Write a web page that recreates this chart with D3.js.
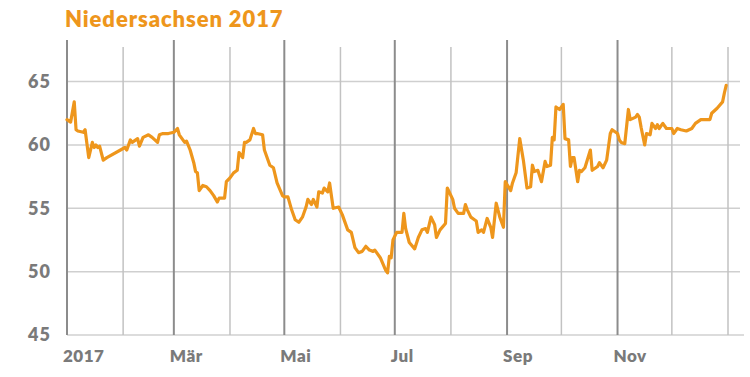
<!DOCTYPE html>
<html>
<head>
<meta charset="utf-8">
<script src="https://cdn.jsdelivr.net/npm/d3@7"></script>
<style>
  html, body { margin: 0; padding: 0; background: #fff; }
  svg { display: block; font-family: Lato, "Open Sans", sans-serif; }
</style>
</head>
<body>
<svg id="chart" width="750" height="377"></svg>
<script>
const WIDTH = 750;
const HEIGHT = 377;
const PADDING_LEFT = 67;
const PLOT_RIGHT = 728;
const GRID_RIGHT = 740;
const PADDING_TOP = 40;
const PLOT_BOTTOM = 335;

const COLOR_LINE = '#EE961C';
const COLOR_TEXT = '#7a7a7a';

const TITLE = 'Niedersachsen 2017';

// Tage seit 1. Januar 2017
const DAYS = [0, 2, 4, 5, 6, 9, 10, 12, 14, 15, 16, 17, 18, 20, 22, 32, 33, 35, 36, 38,
    39, 40, 42, 45, 47, 50, 51, 53, 56, 59, 61, 62, 65, 66, 68, 70, 71, 72, 73, 75,
    77, 79, 81, 83, 84, 86, 87, 88, 90, 92, 94, 95, 97, 98, 99, 101, 103, 104, 105, 108,
    109, 112, 114, 116, 119, 120, 122, 124, 126, 128, 130, 132, 133, 135, 136, 138, 139, 141, 142, 144,
    145, 147, 150, 152, 155, 157, 159, 161, 163, 165, 167, 169, 170, 173, 176, 177, 178, 179, 180, 182,
    184, 185, 186, 187, 189, 192, 194, 196, 198, 199, 201, 203, 204, 206, 209, 210, 213, 214, 216, 219,
    220, 221, 223, 225, 226, 227, 229, 230, 232, 234, 235, 237, 239, 241, 242, 245, 246, 248, 250, 252,
    254, 256, 257, 258, 260, 262, 264, 265, 267, 268, 269, 270, 272, 274, 275, 277, 278, 279, 280, 282,
    283, 284, 286, 289, 290, 293, 294, 296, 298, 300, 301, 304, 305, 306, 308, 310, 311, 314, 315, 316,
    317, 319, 320, 322, 323, 325, 326, 327, 329, 331, 334, 335, 337, 339, 342, 345, 347, 350, 352, 355,
    356, 359, 362, 363, 364];

const VALUES = [62.0, 61.8, 63.4, 61.2, 61.1, 61.0, 61.2, 59.0, 60.2, 59.8, 60.0, 59.8, 59.9, 58.8, 59.0, 59.8, 59.6, 60.4, 60.2, 60.4,
    60.5, 59.9, 60.6, 60.8, 60.6, 60.2, 60.8, 60.9, 60.9, 61.0, 61.3, 60.8, 60.2, 60.3, 59.6, 58.6, 57.9, 57.8, 56.4, 56.8,
    56.7, 56.4, 56.0, 55.5, 55.8, 55.8, 55.8, 57.1, 57.4, 57.8, 58.0, 59.4, 59.0, 60.2, 60.2, 60.4, 61.3, 60.9, 60.9, 60.8,
    59.6, 58.4, 58.2, 57.0, 56.0, 55.9, 55.9, 54.9, 54.1, 53.9, 54.3, 55.1, 55.7, 55.3, 55.7, 55.1, 56.3, 56.2, 56.6, 56.3,
    57.0, 55.0, 55.1, 54.5, 53.3, 53.1, 51.9, 51.5, 51.6, 52.0, 51.7, 51.6, 51.7, 51.1, 50.1, 49.9, 51.2, 51.1, 52.5, 53.1,
    53.1, 53.1, 54.6, 53.4, 52.3, 51.8, 52.7, 53.3, 53.4, 53.1, 54.3, 53.7, 52.7, 53.3, 53.8, 56.6, 55.7, 55.0, 54.6, 54.6,
    55.3, 54.9, 54.3, 54.1, 54.0, 53.1, 53.3, 53.1, 54.2, 53.5, 52.7, 55.4, 54.3, 53.5, 57.1, 56.4, 57.0, 57.8, 60.5, 58.8,
    56.6, 56.7, 58.4, 57.9, 58.0, 57.1, 58.7, 58.3, 58.4, 60.6, 60.4, 63.0, 62.8, 63.2, 60.5, 60.4, 58.3, 59.0, 59.0, 57.1,
    58.0, 57.9, 58.2, 59.6, 58.0, 58.3, 58.6, 58.2, 58.8, 60.9, 61.2, 60.9, 60.4, 60.2, 60.1, 62.8, 62.0, 62.2, 62.4, 62.2,
    61.4, 60.0, 60.9, 60.8, 61.7, 61.3, 61.6, 61.3, 61.7, 61.3, 61.3, 60.9, 61.3, 61.2, 61.1, 61.3, 61.7, 62.0, 62.0, 62.0,
    62.5, 62.9, 63.4, 64.1, 64.7];

const Y_TICKS = [45, 50, 55, 60, 65];
const MONTH_LABELS = ['2017', 'Feb', 'Mär', 'Apr', 'Mai', 'Jun', 'Jul', 'Aug', 'Sep', 'Okt', 'Nov', 'Dez', ''];

const root = d3.select('#chart');
const g = root.append('g');

const start = new Date(2017, 0, 1);
const data = DAYS.map((d, i) => ({ date: d3.timeDay.offset(start, d), value: VALUES[i] }));

const x = d3.scaleTime()
    .domain([start, new Date(2018, 0, 1)])
    .range([PADDING_LEFT, PLOT_RIGHT]);

const y = d3.scaleLinear()
    .domain([45, 45 + (PLOT_BOTTOM - PADDING_TOP) / 12.67])
    .range([PLOT_BOTTOM, PADDING_TOP]);

// horizontale Gitterlinien
g.selectAll('line.hgrid')
    .data(Y_TICKS)
    .enter()
    .append('line')
    .attr('class', 'hgrid')
    .attr('x1', PADDING_LEFT)
    .attr('x2', d => d === 45 ? GRID_RIGHT + 4 : GRID_RIGHT)
    .attr('y1', d => y(d))
    .attr('y2', d => y(d))
    .attr('stroke', d => d === 45 ? '#dcdcdc' : '#cfcfcf')
    .attr('stroke-width', d => d === 45 ? 2 : 1.5);

// vertikale Monatslinien
const months = x.ticks(d3.timeMonth.every(1));
const isMajor = (d, i) => i % 2 === 0 && i < 12;
g.selectAll('line.vgrid')
    .data(months)
    .enter()
    .append('line')
    .attr('class', 'vgrid')
    .attr('x1', d => x(d))
    .attr('x2', d => x(d))
    .attr('y1', (d, i) => isMajor(d, i) ? PADDING_TOP : PADDING_TOP + 7)
    .attr('y2', PLOT_BOTTOM)
    .attr('stroke', (d, i) => isMajor(d, i) ? '#8c8c8c' : '#c2c2c2')
    .attr('stroke-width', (d, i) => isMajor(d, i) ? 2 : 1.5);

// y-Achse Beschriftung
g.selectAll('text.ylabel')
    .data(Y_TICKS)
    .enter()
    .append('text')
    .attr('class', 'ylabel')
    .text(d => d)
    .attr('x', 51)
    .attr('y', d => y(d))
    .attr('dy', '0.36em')
    .attr('text-anchor', 'end')
    .attr('fill', COLOR_TEXT)
    .attr('font-size', 18)
    .attr('font-weight', 800)
    .attr('letter-spacing', 1);

// x-Achse Beschriftung (jeder zweite Monat)
g.selectAll('text.xlabel')
    .data(months.filter(isMajor))
    .enter()
    .append('text')
    .attr('class', 'xlabel')
    .text(d => MONTH_LABELS[d.getMonth()])
    .attr('x', d => x(d) - 4)
    .attr('y', 362)
    .attr('text-anchor', 'start')
    .attr('fill', COLOR_TEXT)
    .attr('font-size', 17)
    .attr('font-weight', 800)
    .attr('letter-spacing', 0.5);

// Linie
const line = d3.line()
    .x(d => x(d.date))
    .y(d => y(d.value));

g.append('path')
    .datum(data)
    .attr('d', line)
    .attr('fill', 'none')
    .attr('stroke', COLOR_LINE)
    .attr('stroke-width', 3.2)
    .attr('stroke-linejoin', 'round')
    .attr('stroke-linecap', 'round');

// Titel
g.append('text')
    .text(TITLE)
    .attr('x', 65)
    .attr('y', 27)
    .attr('fill', COLOR_LINE)
    .attr('font-size', 22)
    .attr('font-weight', 800)
    .attr('letter-spacing', 0.9);
</script>
</body>
</html>
